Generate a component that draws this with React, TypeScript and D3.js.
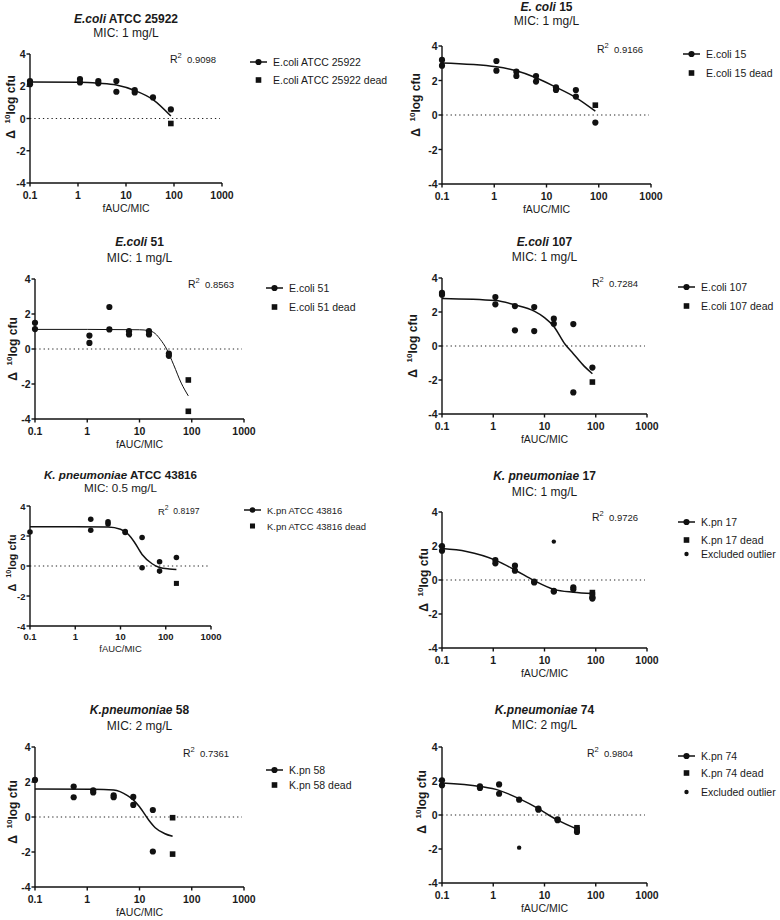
import React from "react";
import * as d3 from "d3";

// ---------- DATA ----------
const panelTitlesItalic = ["E.coli", "E. coli", "E.coli", "E.coli", "K. pneumoniae", "K. pneumoniae", "K.pneumoniae", "K.pneumoniae"];
const panelTitlesRest = [" ATCC 25922", " 15", " 51", " 107", " ATCC 43816", " 17", " 58", " 74"];
const micLabels = ["MIC: 1 mg/L", "MIC: 1 mg/L", "MIC: 1 mg/L", "MIC: 1 mg/L", "MIC: 0.5 mg/L", "MIC: 1 mg/L", "MIC: 2 mg/L", "MIC: 2 mg/L"];
const r2Values = ["0.9098", "0.9166", "0.8563", "0.7284", "0.8197", "0.9726", "0.7361", "0.9804"];
const seriesNames = ["E.coli ATCC 25922", "E.coli 15", "E.coli 51", "E.coli 107", "K.pn ATCC 43816", "K.pn 17", "K.pn 58", "K.pn 74"];
const hasOutlier = [false, false, false, false, false, true, false, true];

const xTicks = [0.1, 1, 10, 100, 1000];
const xTickLabels = ["0.1", "1", "10", "100", "1000"];
const yTicks = [-4, -2, 0, 2, 4];
const yTickLabels = ["-4", "-2", "0", "2", "4"];

type P = [number, number];

// alive (circles)
const alive1: P[] = [[0.1, 2.32], [0.1, 2.13], [1.1, 2.45], [1.1, 2.24], [2.65, 2.32], [2.65, 2.18], [6.3, 2.32], [6.3, 1.66], [15.2, 1.76], [15.2, 1.62], [36.5, 1.31], [86, 0.56]];
const alive2: P[] = [[0.1, 3.19], [0.1, 2.86], [1.1, 3.13], [1.1, 2.57], [2.65, 2.51], [2.65, 2.26], [6.3, 2.26], [6.3, 1.94], [15.2, 1.61], [15.2, 1.45], [36.5, 1.45], [36.5, 1.07], [86, -0.44]];
const alive3: P[] = [[0.1, 1.5], [0.1, 1.14], [1.1, 0.77], [1.1, 0.35], [2.65, 2.4], [2.65, 1.12], [6.3, 1.02], [6.3, 0.83], [15.2, 1.02], [15.2, 0.83], [36.5, -0.26], [36.5, -0.39]];
const alive4: P[] = [[0.1, 3.12], [0.1, 3.02], [1.1, 2.88], [1.1, 2.45], [2.65, 2.35], [2.65, 0.92], [6.3, 2.29], [6.3, 0.88], [15.2, 1.61], [15.2, 1.31], [36.5, 1.29], [36.5, -2.73], [86, -1.27]];
const alive5: P[] = [[0.1, 2.27], [2.2, 3.12], [2.2, 2.38], [5.3, 2.94], [5.3, 2.8], [12.7, 2.29], [12.7, 2.23], [30, 1.9], [30, -0.12], [73, 0.28], [73, -0.34], [172, 0.57]];
const alive6: P[] = [[0.1, 1.99], [0.1, 1.72], [1.1, 1.17], [1.1, 0.98], [2.65, 0.84], [2.65, 0.55], [6.3, -0.1], [6.3, -0.14], [15.2, -0.64], [15.2, -0.68], [36.5, -0.43], [36.5, -0.55], [86, -1.03], [86, -1.09]];
const alive7: P[] = [[0.1, 2.12], [0.55, 1.74], [0.55, 1.13], [1.3, 1.53], [1.3, 1.4], [3.2, 1.24], [3.2, 1.13], [7.6, 1.15], [7.6, 0.69], [18, 0.4], [18, -1.97]];
const alive8: P[] = [[0.1, 2.04], [0.1, 1.75], [0.55, 1.69], [0.55, 1.59], [1.3, 1.8], [1.3, 1.25], [3.2, 0.9], [7.6, 0.37], [7.6, 0.31], [18, -0.25], [18, -0.31], [43, -1.0]];

// dead (squares)
const dead1: P[] = [[86, -0.31]];
const dead2: P[] = [[86, 0.57]];
const dead3: P[] = [[86, -1.77], [86, -3.56]];
const dead4: P[] = [[86, -2.12]];
const dead5: P[] = [[172, -1.16]];
const dead6: P[] = [[86, -0.74], [86, -0.88]];
const dead7: P[] = [[43, -0.04], [43, -2.12]];
const dead8: P[] = [[43, -0.75], [43, -0.86]];

// excluded outliers (small dots)
const outlier6: P[] = [[15.2, 2.26]];
const outlier8: P[] = [[3.2, -1.92]];

// fitted curves
const fit1: P[] = [[0.1, 2.27], [1.1, 2.25], [2.65, 2.19], [6.3, 2.08], [15.2, 1.74], [36.5, 1.17], [86, 0.15]];
const fit2: P[] = [[0.1, 3.02], [1.1, 2.8], [2.65, 2.56], [6.3, 2.16], [15.2, 1.61], [36.5, 1.01], [86, 0.22]];
const fit3: P[] = [[0.1, 1.12], [1, 1.12], [10, 1.1], [15, 1.05], [20, 0.88], [25, 0.55], [33, 0.0], [45, -0.9], [63, -1.95], [86, -2.68]];
const fit4: P[] = [[0.1, 2.8], [1.1, 2.68], [2.65, 2.42], [6.3, 2.05], [10, 1.67], [15.2, 1.15], [25, 0.12], [36.5, -0.45], [60, -1.2], [86, -1.63]];
const fit5: P[] = [[0.1, 2.62], [1, 2.62], [5.3, 2.6], [10, 2.45], [15, 2.1], [20, 1.62], [30, 0.77], [50, 0.15], [73, -0.1], [120, -0.2], [172, -0.23]];
const fit6: P[] = [[0.1, 1.85], [0.3, 1.68], [1.1, 1.17], [2.65, 0.59], [6.3, -0.04], [15.2, -0.55], [36.5, -0.72], [86, -0.8]];
const fit7: P[] = [[0.1, 1.6], [1.3, 1.59], [3.2, 1.54], [5.9, 1.22], [7.6, 0.98], [10, 0.59], [15, -0.17], [20, -0.61], [30, -0.94], [43, -1.1]];
const fit8: P[] = [[0.1, 1.88], [0.55, 1.68], [1.3, 1.45], [3.2, 0.96], [7.6, 0.37], [12, 0], [18, -0.3], [43, -0.82]];

const aliveData = [alive1, alive2, alive3, alive4, alive5, alive6, alive7, alive8];
const deadData = [dead1, dead2, dead3, dead4, dead5, dead6, dead7, dead8];
const outlierData: P[][] = [[], [], [], [], [], outlier6, [], outlier8];
const fitData = [fit1, fit2, fit3, fit4, fit5, fit6, fit7, fit8];

// ---------- LAYOUT ----------
const layouts = [
  { ax: 30, x1: 222, yTop: 54, yBot: 183, tY: 19, sY: 33, r2x: 170, r2y: 59, legX: 273, legY: [62, 80, 0], ylx: 11, yly: 107, s: 1, lw: 1.5 },
  { ax: 442, x1: 651, yTop: 46, yBot: 184, tY: 7, sY: 21, r2x: 597, r2y: 49, legX: 706, legY: [54, 73, 0], ylx: 416, yly: 105, s: 1, lw: 1.5 },
  { ax: 35, x1: 244, yTop: 279, yBot: 419, tY: 242, sY: 258, r2x: 188, r2y: 284, legX: 289, legY: [288, 307, 0], ylx: 13, yly: 349, s: 1, lw: 1 },
  { ax: 442, x1: 647, yTop: 278, yBot: 414, tY: 242, sY: 257, r2x: 592, r2y: 283, legX: 701, legY: [287, 306, 0], ylx: 413, yly: 346, s: 1, lw: 1.5 },
  { ax: 30, x1: 211, yTop: 506, yBot: 626, tY: 474, sY: 487, r2x: 158, r2y: 511, legX: 267, legY: [510, 526, 0], ylx: 12, yly: 563, s: 0.9, lw: 1.5 },
  { ax: 442, x1: 647, yTop: 512, yBot: 648, tY: 476, sY: 492, r2x: 592, r2y: 517, legX: 701, legY: [522, 540, 554], ylx: 424, yly: 580, s: 1, lw: 1.5 },
  { ax: 35, x1: 244, yTop: 747, yBot: 887, tY: 710, sY: 726, r2x: 183, r2y: 753, legX: 289, legY: [770, 785, 0], ylx: 13, yly: 812, s: 1, lw: 1.5 },
  { ax: 442, x1: 647, yTop: 747, yBot: 883, tY: 710, sY: 725, r2x: 587, r2y: 753, legX: 701, legY: [756, 773, 792], ylx: 422, yly: 802, s: 1, lw: 1.5 },
];

const FONT = "'Liberation Sans', Arial, Helvetica, sans-serif";

function Panel({ i }: { i: number }) {
  const L = layouts[i];
  const s = L.s;
  const x = d3.scaleLog().domain([0.1, 1000]).range([L.ax, L.x1]);
  const y = d3.scaleLinear().domain([-4, 4]).range([L.yBot, L.yTop]);
  const line = d3.line<P>().x((d) => x(d[0])).y((d) => y(d[1])).curve(d3.curveMonotoneX);
  const r = 3.1 * s;
  const sq = 5.6 * s;
  const cx = (L.ax + L.x1) / 2;
  const tickFs = 10.5 * s;
  return (
    <g fontFamily={FONT} fill="#1a1a1a">
      {/* titles */}
      <text x={cx} y={L.tY} textAnchor="middle" dominantBaseline="central" fontSize={12 * (s < 1 ? 0.97 : 1)} fontWeight="bold">
        <tspan fontStyle="italic">{panelTitlesItalic[i]}</tspan>
        {panelTitlesRest[i]}
      </text>
      <text x={cx} y={L.sY} textAnchor="middle" dominantBaseline="central" fontSize={12 * (s < 1 ? 0.97 : 1)}>
        {micLabels[i]}
      </text>
      {/* zero reference line */}
      <line x1={L.ax} x2={L.x1 - 2} y1={y(0)} y2={y(0)} stroke="#222" strokeWidth={1.2} strokeDasharray="1.3,3" />
      {/* axes */}
      <line x1={L.ax} x2={L.ax} y1={L.yTop} y2={L.yBot} stroke="#111" strokeWidth={1.4} />
      <line x1={L.ax} x2={L.x1} y1={L.yBot} y2={L.yBot} stroke="#111" strokeWidth={1.4} />
      {yTicks.map((t, k) => (
        <g key={"yt" + k}>
          <line x1={L.ax - 3.5} x2={L.ax} y1={y(t)} y2={y(t)} stroke="#111" strokeWidth={1.4} />
          <text x={L.ax - 4.5} y={y(t)} textAnchor="end" dominantBaseline="central" fontSize={tickFs} fontWeight="bold">
            {yTickLabels[k]}
          </text>
        </g>
      ))}
      {xTicks.map((t, k) => (
        <g key={"xt" + k}>
          <line x1={x(t)} x2={x(t)} y1={L.yBot} y2={L.yBot + 3.5} stroke="#111" strokeWidth={1.4} />
          <text x={x(t)} y={L.yBot + 11.5 * s} textAnchor="middle" dominantBaseline="central" fontSize={tickFs} fontWeight="bold">
            {xTickLabels[k]}
          </text>
        </g>
      ))}
      <text x={cx} y={L.yBot + 24.5 * s} textAnchor="middle" dominantBaseline="central" fontSize={10.5 * s}>
        fAUC/MIC
      </text>
      {/* y label */}
      <text transform={`translate(${L.ylx},${L.yly}) rotate(-90)`} textAnchor="middle" dominantBaseline="central" fontSize={12 * s} fontWeight="bold">
        <tspan>{"Δ\u00a0\u00a0"}</tspan>
        <tspan fontSize={8 * s} dy={-4.5 * s}>10</tspan>
        <tspan dy={4.5 * s}>log cfu</tspan>
      </text>
      {/* R2 */}
      <text x={L.r2x} y={L.r2y} dominantBaseline="central" fontSize={10.5 * s}>
        <tspan>R</tspan>
        <tspan fontSize={7.5 * s} dy={-4}>2</tspan>
        <tspan fontSize={9.5 * s} dy={4}>{"\u00a0\u00a0" + r2Values[i]}</tspan>
      </text>
      {/* fit curve */}
      <path d={line(fitData[i]) || ""} fill="none" stroke="#111" strokeWidth={L.lw} />
      {/* points */}
      {aliveData[i].map((d, k) => (
        <circle key={"a" + k} cx={x(d[0])} cy={y(d[1])} r={r} fill="#111" />
      ))}
      {deadData[i].map((d, k) => (
        <rect key={"d" + k} x={x(d[0]) - sq / 2} y={y(d[1]) - sq / 2} width={sq} height={sq} fill="#111" />
      ))}
      {outlierData[i].map((d, k) => (
        <circle key={"o" + k} cx={x(d[0])} cy={y(d[1])} r={2.2} fill="#111" />
      ))}
      {/* legend */}
      <g>
        <line x1={L.legX - 23} x2={L.legX - 6} y1={L.legY[0]} y2={L.legY[0]} stroke="#111" strokeWidth={1.5} />
        <circle cx={L.legX - 14.5} cy={L.legY[0]} r={r} fill="#111" />
        <text x={L.legX} y={L.legY[0]} dominantBaseline="central" fontSize={10.5 * s}>{seriesNames[i]}</text>
        <rect x={L.legX - 14.5 - sq / 2} y={L.legY[1] - sq / 2} width={sq} height={sq} fill="#111" />
        <text x={L.legX} y={L.legY[1]} dominantBaseline="central" fontSize={10.5 * s}>{seriesNames[i] + " dead"}</text>
        {hasOutlier[i] && (
          <g>
            <circle cx={L.legX - 14.5} cy={L.legY[2]} r={2.2} fill="#111" />
            <text x={L.legX} y={L.legY[2]} dominantBaseline="central" fontSize={10.5 * s}>Excluded outlier</text>
          </g>
        )}
      </g>
    </g>
  );
}

export default function App() {
  return (
    <svg width={780} height={920} style={{ position: "absolute", left: 0, top: 0, background: "#fff" }}>
      <rect width={780} height={920} fill="#fff" />
      {layouts.map((_, i) => (
        <Panel key={i} i={i} />
      ))}
    </svg>
  );
}
